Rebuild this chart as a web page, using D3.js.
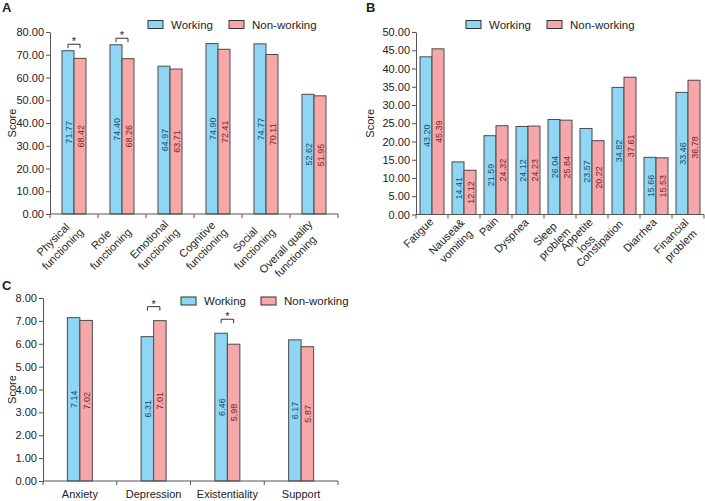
<!DOCTYPE html>
<html><head><meta charset="utf-8">
<script src="https://cdn.jsdelivr.net/npm/d3@7"></script>
<style>
body{margin:0;background:#fff;}
svg{display:block;font-family:"Liberation Sans",Arial,sans-serif;}
</style></head>
<body><svg id="c" width="705" height="501"></svg>
<script>
// ---- data ----
const seriesNames = ["Working", "Non-working"];

const catsA = ["Physical\nfunctioning","Role\nfunctioning","Emotional\nfunctioning","Cognitive\nfunctioning","Social\nfunctioning","Overall quality\nfunctioning"];
const workA = [71.77, 74.40, 64.97, 74.90, 74.77, 52.62];
const nonA  = [68.42, 68.26, 63.71, 72.41, 70.11, 51.95];
const ticksA = [0,10,20,30,40,50,60,70,80];
const sigA = [0, 1];

const catsB = ["Fatigue","Nausea&\nvomiting","Pain","Dyspnea","Sleep\nproblem","Appetite\nloss","Constipation","Diarrhea","Financial\nproblem"];
const workB = [43.20, 14.41, 21.59, 24.12, 26.04, 23.57, 34.82, 15.66, 33.46];
const nonB  = [45.39, 12.12, 24.32, 24.23, 25.84, 20.22, 37.61, 15.53, 36.78];
const ticksB = [0,5,10,15,20,25,30,35,40,45,50];
const sigB = [];

const catsC = ["Anxiety","Depression","Existentiality","Support"];
const workC = [7.14, 6.31, 6.46, 6.17];
const nonC  = [7.02, 7.01, 5.98, 5.87];
const ticksC = [0,1,2,3,4,5,6,7,8];
const sigC = [1, 2];

// ---- style ----
const COL = ["#8ed6f3", "#f5a7aa"];
const TXT = ["#1c4a6b", "#7a2226"];
const AX = "#555";
const svg = d3.select("#c");

function panel(o){
  const g = svg.append("g");
  const x = d3.scaleBand().domain(o.cats.map((d,i)=>i)).range([o.x0,o.x1]).paddingInner(0).paddingOuter(0);
  const y = d3.scaleLinear().domain([0,o.max]).range([o.y0,o.y1]);
  const sub = d3.scaleBand().domain([0,1]).range([0, 2*o.bw]);
  const data = o.cats.map((c,i)=>({i, v:[o.w[i], o.n[i]]}));

  // panel letter
  g.append("text").attr("x",o.lx).attr("y",o.ly).attr("font-size",13).attr("font-weight","bold").attr("fill","#222").text(o.letter);

  // y axis
  const ya = g.append("g").attr("transform",`translate(${o.x0},0)`)
    .call(d3.axisLeft(y).tickValues(o.ticks).tickFormat(d3.format(".2f")).tickSize(4).tickSizeOuter(0));
  ya.select(".domain").attr("stroke",AX);
  ya.selectAll(".tick line").attr("stroke",AX);
  ya.selectAll(".tick text").attr("font-size",11).attr("fill","#222").attr("font-family","Liberation Sans, Arial, sans-serif").attr("x",-6);

  g.append("text").attr("transform",`translate(${o.sx},${(o.y0+o.y1)/2}) rotate(-90)`)
    .attr("text-anchor","middle").attr("dominant-baseline","central").attr("font-size",11).attr("fill","#222").text("Score");

  // bars
  const grp = g.selectAll(".grp").data(data).join("g")
    .attr("transform",d=>`translate(${x(d.i)+x.bandwidth()/2-o.bw},0)`);
  grp.selectAll("rect").data(d=>d.v.map((v,k)=>({v,k}))).join("rect")
    .attr("x",d=>sub(d.k)).attr("width",o.bw)
    .attr("y",d=>y(d.v)).attr("height",d=>y(0)-y(d.v))
    .attr("fill",d=>COL[d.k]).attr("stroke","#4a4a4a").attr("stroke-width",1);
  grp.selectAll("text.v").data(d=>d.v.map((v,k)=>({v,k}))).join("text").attr("class","v")
    .attr("transform",d=>`translate(${sub(d.k)+o.bw/2+0.5},${(y(d.v)+y(0))/2}) rotate(-90)`)
    .attr("text-anchor","middle").attr("dominant-baseline","central")
    .attr("font-size",9).attr("fill",d=>TXT[d.k]).text(d=>d3.format(".2f")(d.v));

  // x axis
  const xa = g.append("g").attr("transform",`translate(0,${o.y0})`);
  xa.append("line").attr("x1",o.x0).attr("x2",o.x1).attr("stroke",AX);
  const bounds = o.cats.map((c,i)=>x(i)).concat([o.x1]);
  xa.selectAll("line.t").data(bounds).join("line").attr("class","t")
    .attr("x1",d=>d).attr("x2",d=>d).attr("y1",0).attr("y2",4).attr("stroke",AX);

  // category labels
  if(o.rot){
    o.cats.forEach((c,i)=>{
      const lines = c.split("\n");
      const lg = g.append("g").attr("transform",`translate(${x(i)+x.bandwidth()/2-2},${o.y0+12}) rotate(-45)`);
      const ts = lines.map((l,k)=>lg.append("text").attr("y",k*13.5).attr("font-size",11).attr("fill","#222").text(l));
      const maxW = d3.max(ts, t=>t.node().getComputedTextLength());
      const R = 10 - 0.12*maxW;
      ts.forEach(t=>t.attr("text-anchor","middle").attr("x",R-maxW/2));
    });
  } else {
    o.cats.forEach((c,i)=>{
      g.append("text").attr("x",x(i)+x.bandwidth()/2).attr("y",o.y0+17).attr("text-anchor","middle")
        .attr("font-size",11).attr("fill","#222").text(c);
    });
  }

  // significance brackets
  o.sig.forEach(i=>{
    const cx = x(i)+x.bandwidth()/2;
    const a = cx - o.bw/2, b = cx + o.bw/2;
    const top = y(Math.max(o.w[i],o.n[i])) - o.boff;
    g.append("path").attr("d",`M${a},${top+4}V${top}H${b}V${top+4}`).attr("fill","none").attr("stroke","#333").attr("stroke-width",1);
    g.append("text").attr("x",cx).attr("y",top+1).attr("text-anchor","middle").attr("font-size",11).attr("fill","#222").text("*");
  });

  // legend
  const L = g.append("g");
  [0,1].forEach(k=>{
    L.append("rect").attr("x",o.legX[k]).attr("y",o.legY-4).attr("width",15).attr("height",8)
      .attr("fill",COL[k]).attr("stroke","#333").attr("stroke-width",1);
    L.append("text").attr("x",o.legX[k]+23).attr("y",o.legY).attr("dominant-baseline","central")
      .attr("font-size",11.5).attr("fill","#222").text(seriesNames[k]);
  });
}

panel({letter:"A", lx:2, ly:12, cats:catsA, w:workA, n:nonA, ticks:ticksA, max:80,
  x0:50, x1:338, y0:214, y1:32, bw:12, sx:12, rot:true, sig:sigA, boff:6.5,
  legX:[148,229], legY:24.5});
panel({letter:"B", lx:366, ly:12, cats:catsB, w:workB, n:nonB, ticks:ticksB, max:50,
  x0:416, x1:704, y0:214.5, y1:32, bw:12, sx:370, rot:true, sig:sigB, boff:6.5,
  legX:[466,547], legY:24.5});
panel({letter:"C", lx:2, ly:290, cats:catsC, w:workC, n:nonC, ticks:ticksC, max:8,
  x0:43, x1:338, y0:481, y1:298, bw:12.5, sx:12, rot:false, sig:sigC, boff:14,
  legX:[181,261], legY:301});
</script>
</body></html>
